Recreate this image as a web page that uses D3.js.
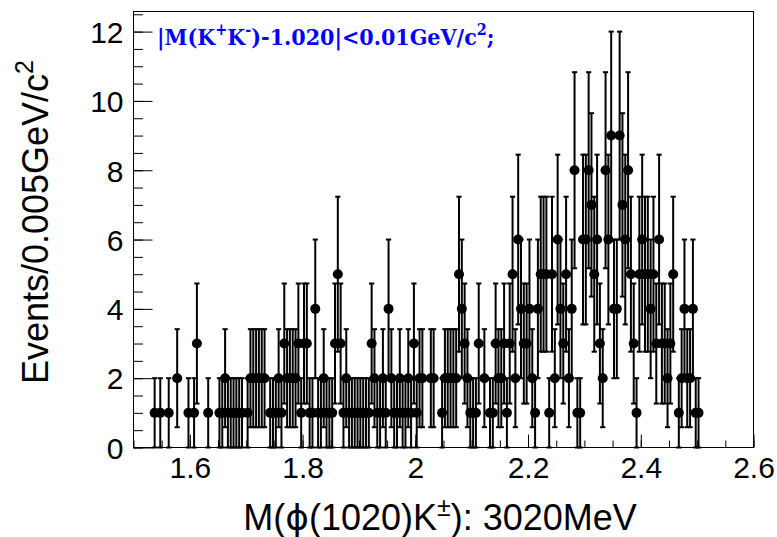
<!DOCTYPE html>
<html><head><meta charset="utf-8">
<script src="https://cdn.jsdelivr.net/npm/d3@7"></script>
<style>body{margin:0;background:#fff}</style>
</head><body>
<svg id="c" width="777" height="537"></svg>
<script>
// ---- data (bin centres in GeV/c^2, events per 0.005 GeV/c^2 bin) ----
const massBins = [1.5375,1.5475,1.5625,1.5775,1.5975,1.6075,1.6125,1.6325,1.6525,1.6575,1.6625,1.6675,1.6725,1.6775,1.6825,1.6875,1.6925,1.7025,1.7075,1.7125,1.7175,1.7225,1.7275,1.7325,1.7425,1.7475,1.7525,1.7575,1.7625,1.7675,1.7725,1.7775,1.7825,1.7875,1.7925,1.7975,1.8025,1.8075,1.8125,1.8175,1.8225,1.8275,1.8325,1.8375,1.8425,1.8475,1.8525,1.8575,1.8625,1.8675,1.8725,1.8775,1.8825,1.8875,1.8925,1.8975,1.9025,1.9075,1.9125,1.9175,1.9225,1.9275,1.9325,1.9375,1.9425,1.9475,1.9525,1.9575,1.9625,1.9675,1.9725,1.9775,1.9825,1.9875,1.9925,1.9975,2.0025,2.0075,2.0125,2.0275,2.0325,2.0475,2.0525,2.0575,2.0625,2.0675,2.0725,2.0775,2.0825,2.0875,2.0925,2.0975,2.1025,2.1075,2.1125,2.1225,2.1325,2.1375,2.1425,2.1475,2.1525,2.1575,2.1625,2.1675,2.1725,2.1775,2.1825,2.1875,2.1925,2.1975,2.2025,2.2075,2.2125,2.2175,2.2225,2.2275,2.2325,2.2375,2.2425,2.2475,2.2525,2.2575,2.2625,2.2675,2.2725,2.2775,2.2825,2.2875,2.2925,2.2975,2.3025,2.3075,2.3125,2.3175,2.3225,2.3275,2.3325,2.3375,2.3425,2.3475,2.3525,2.3575,2.3625,2.3675,2.3725,2.3775,2.3825,2.3875,2.3925,2.3975,2.4025,2.4075,2.4125,2.4175,2.4225,2.4275,2.4325,2.4375,2.4425,2.4475,2.4525,2.4575,2.4675,2.4725,2.4775,2.4825,2.4875,2.4925,2.4975,2.5025];
const events = [1,1,1,2,1,1,3,1,1,1,2,1,1,1,1,1,1,1,2,2,2,2,2,2,1,1,1,2,1,3,2,2,2,2,3,1,3,3,1,1,4,1,1,2,1,1,1,3,5,3,1,2,1,1,1,1,1,1,1,1,3,2,1,1,2,1,4,2,1,1,2,1,1,2,1,3,1,2,2,2,2,1,2,2,2,2,2,5,4,3,2,1,1,1,3,2,1,1,3,2,2,3,1,3,5,2,6,4,3,3,4,2,1,4,5,5,5,1,5,2,6,4,3,5,2,4,8,1,1,6,6,8,7,5,6,3,2,8,6,9,4,4,9,7,6,8,5,3,1,5,6,5,5,4,5,3,6,3,3,2,3,5,1,2,4,2,2,4,1,1];
const xTickValues = [1.6, 1.8, 2.0, 2.2, 2.4, 2.6];
const xTickLabels = ["1.6", "1.8", "2", "2.2", "2.4", "2.6"];
const yTickValues = [0, 2, 4, 6, 8, 10, 12];
const yTickLabels = ["0", "2", "4", "6", "8", "10", "12"];
const xDomain = [1.5, 2.6];
const yDomain = [0, 12.58];

// ---- layout ----
const L = 133.5, R = 753.5, T = 11.5, B = 447.5;
const svg = d3.select("#c");
const x = d3.scaleLinear().domain(xDomain).range([L, R]);
const y = d3.scaleLinear().domain(yDomain).range([B, T]);
const font = "'Liberation Sans', Arial, Helvetica, sans-serif";

// minor ticks
const xMinor = d3.range(1.5, 2.6001, 0.05);
const yMinor = d3.range(0, 12.51, 0.5);

const gxMinor = svg.append("g").attr("transform", `translate(0,${B})`)
  .call(d3.axisBottom(x).tickValues(xMinor).tickSize(-7).tickFormat(""));
const gxMajor = svg.append("g").attr("transform", `translate(0,${B})`)
  .call(d3.axisBottom(x).tickValues(xTickValues).tickSize(-13).tickPadding(9)
    .tickFormat((d, i) => xTickLabels[i]));
const gyMinor = svg.append("g").attr("transform", `translate(${L},0)`)
  .call(d3.axisLeft(y).tickValues(yMinor).tickSize(-9.5).tickFormat(""));
const gyMajor = svg.append("g").attr("transform", `translate(${L},0)`)
  .call(d3.axisLeft(y).tickValues(yTickValues).tickSize(-19).tickPadding(10)
    .tickFormat((d, i) => yTickLabels[i]));

[gxMinor, gxMajor, gyMinor, gyMajor].forEach(g => {
  g.select(".domain").remove();
  g.selectAll(".tick line").attr("stroke", "#000").attr("stroke-width", 1);
  g.selectAll("text").attr("font-family", font).attr("font-size", 30).attr("fill", "#000");
});
gyMajor.selectAll("text").attr("dy", "0.36em");

// frame
svg.append("rect").attr("x", L).attr("y", T).attr("width", R - L).attr("height", B - T)
  .attr("fill", "none").attr("stroke", "#000").attr("stroke-width", 1);

// error bars
const data = massBins.map((m, i) => ({m, n: events[i], e: Math.sqrt(events[i])}));
const cap = 2.6;
const eg = svg.append("g").attr("stroke", "#000").attr("stroke-width", 2);
eg.selectAll("line.v").data(data).join("line").attr("class", "v")
  .attr("x1", d => x(d.m)).attr("x2", d => x(d.m))
  .attr("y1", d => y(d.n - d.e)).attr("y2", d => y(d.n + d.e));
eg.selectAll("line.t").data(data).join("line").attr("class", "t")
  .attr("x1", d => x(d.m) - cap).attr("x2", d => x(d.m) + cap)
  .attr("y1", d => y(d.n + d.e)).attr("y2", d => y(d.n + d.e));
eg.selectAll("line.b").data(data).join("line").attr("class", "b")
  .attr("x1", d => x(d.m) - cap).attr("x2", d => x(d.m) + cap)
  .attr("y1", d => y(d.n - d.e)).attr("y2", d => y(d.n - d.e));
// markers
svg.append("g").selectAll("circle").data(data).join("circle")
  .attr("cx", d => x(d.m)).attr("cy", d => y(d.n)).attr("r", 5).attr("fill", "#000");

// y title
const yt = svg.append("text").attr("transform", "translate(48,60) rotate(-90)")
  .attr("text-anchor", "end").attr("font-family", font).attr("font-size", 36).attr("fill", "#000");
yt.append("tspan").text("Events/0.005GeV/c");
yt.append("tspan").attr("font-size", 25).attr("dy", -15).text("2");

// x title
const xt = svg.append("text").attr("x", 440).attr("y", 530)
  .attr("text-anchor", "middle").attr("font-family", font).attr("font-size", 36).attr("fill", "#000");
xt.append("tspan").text("M(");
xt.append("tspan").attr("font-family", "'DejaVu Sans', sans-serif").text("\u03D5");
xt.append("tspan").text("(1020)K");
xt.append("tspan").attr("font-size", 25).attr("dy", -14).text("\u00B1");
xt.append("tspan").attr("dy", 14).text("): 3020MeV");

// cut label
const ct = svg.append("text").attr("x", 157).attr("y", 45)
  .attr("font-family", "'DejaVu Serif Condensed', 'DejaVu Serif', serif").attr("font-weight", "bold")
  .attr("font-stretch", "condensed")
  .attr("font-size", 23).attr("fill", "#0000ff");
ct.append("tspan").text("|M(K");
ct.append("tspan").attr("font-size", 16).attr("dy", -10).text("+");
ct.append("tspan").attr("dy", 10).text("K");
ct.append("tspan").attr("font-size", 16).attr("dy", -10).text("-");
ct.append("tspan").attr("dy", 10).text(")-1.020|<0.01GeV/c");
ct.append("tspan").attr("font-size", 16).attr("dy", -10).text("2");
ct.append("tspan").attr("dy", 10).text(";");
</script>
</body></html>
